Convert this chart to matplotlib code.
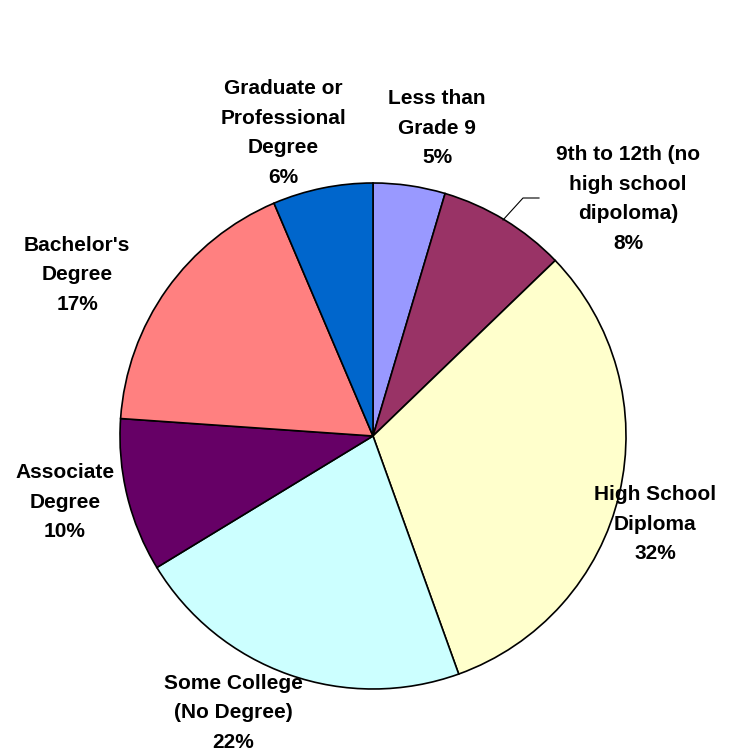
import matplotlib
matplotlib.use("Agg")
import matplotlib.pyplot as plt

categories = ["Less than\nGrade 9", "9th to 12th (no\nhigh school\ndipoloma)", "High School\nDiploma",
              "Some College\n(No Degree)", "Associate\nDegree", "Bachelor's\nDegree",
              "Graduate or\nProfessional\nDegree"]
values = [4.6, 8.2, 31.7, 21.8, 9.8, 17.5, 6.4]
pct_labels = ["5%", "8%", "32%", "22%", "10%", "17%", "6%"]
colors = ["#9999FF", "#993366", "#FFFFCC", "#CCFFFF", "#660066", "#FF8080", "#0066CC"]

# label centre positions in pixels (x, y)
label_px = [(437, 128), (628, 199), (655, 524), (233, 713), (65, 502), (77, 275), (283, 133)]

W, H = 729, 752
cx, cy, R = 373, 436, 253

fig = plt.figure(figsize=(W / 100, H / 100), dpi=100)
ax = fig.add_axes([0, 0, 1, 1])
ax.pie(values, colors=colors, startangle=90, counterclock=False, radius=1,
       wedgeprops=dict(edgecolor="black", linewidth=1.2))
ax.set_xlim(-cx / R, (W - cx) / R)
ax.set_ylim((cy - H) / R, cy / R)
ax.set_aspect("equal")
ax.axis("off")

def to_data(px, py):
    return (px - cx) / R, (cy - py) / R

for cat, pct, (px, py) in zip(categories, pct_labels, label_px):
    x, y = to_data(px, py)
    ax.text(x, y, cat + "\n" + pct, ha="center", va="center", fontsize=15,
            fontweight="bold", family="Liberation Sans", linespacing=1.72, color="black")

# leader line for 9th to 12th
pts = [to_data(503, 220), to_data(523, 198), to_data(539, 198)]
ax.plot([p[0] for p in pts], [p[1] for p in pts], color="black", linewidth=0.8)

fig.savefig("out.png", dpi=100)
